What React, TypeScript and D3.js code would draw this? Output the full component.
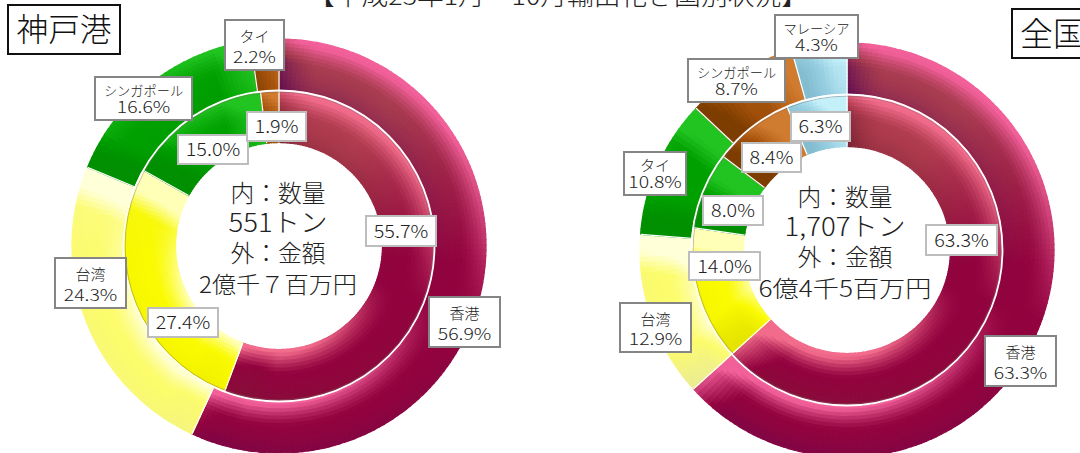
import React, { useMemo } from "react";
import * as d3 from "d3";

const kobeOuterNames = ["香港", "台湾", "シンガポール", "タイ"];
const kobeOuterValues = [56.9, 24.3, 16.6, 2.2];
const kobeInnerValues = [55.7, 27.4, 15.0, 1.9];
const japanOuterNames = ["香港", "台湾", "タイ", "シンガポール", "マレーシア"];
const japanOuterValues = [63.3, 12.9, 10.8, 8.7, 4.3];
const japanInnerNames = ["香港", "台湾", "タイ", "シンガポール", "マレーシア"];
const japanInnerValues = [63.3, 14.0, 8.0, 8.4, 6.3];
const kobeCentre = ["内：数量", "551トン", "外：金額", "2億千７百万円"];
const japanCentre = ["内：数量", "1,707トン", "外：金額", "6億4千5百万円"];
const titleText = "【平成23年1月～10月輸出花き国別状況】";

type Pal = { top: string; mid: string; hi: string; lo: string };
const green: Pal = { top: "#00a000", mid: "#00a000", hi: "#22c422", lo: "#009000" };
const outerPal: Record<string, Pal> = {
  香港: { top: "#a83c50", mid: "#92043f", hi: "#f2609a", lo: "#5a0a50" },
  台湾: { top: "#fbfb98", mid: "#fcfc6c", hi: "#ffffd8", lo: "#eeee90" },
  シンガポール: green,
  タイ: green,
  マレーシア: { top: "#98d0e2", mid: "#98d0e2", hi: "#c4f0fa", lo: "#84bcd0" },
};
const innerPal: Record<string, Pal> = {
  ...outerPal,
  香港: { top: "#b03c50", mid: "#92043f", hi: "#f26c8c", lo: "#74202f" },
  台湾: { top: "#f4f420", mid: "#fafa00", hi: "#ffffb8", lo: "#e4e400" },
};
const brown: Pal = { top: "#a5520c", mid: "#a5520c", hi: "#d07c30", lo: "#7e3e00" };

const R_OUT = 207, R_MID = 155.5, R_IN = 103.5;
const LIGHT = [0.35, -0.94];
const STEP = (1.5 * Math.PI) / 180;
const BANDS = 14;

function clamp(v: number) { return Math.max(0, Math.min(1, v)); }

function ringCells(values: number[], pals: Pal[], r0: number, r1: number, key: string) {
  const pie = d3.pie<number>().sort(null).value((d) => d)(values);
  const arc = d3.arc<any>();
  const cells: React.ReactElement[] = [];
  const w = r1 - r0;
  const bevelR = w * 0.5;
  const bevelT = w * 0.75;
  pie.forEach((sl, si) => {
    const pal = pals[si];
    const steps = Math.max(4, Math.ceil((sl.endAngle - sl.startAngle) / STEP));
    const da = (sl.endAngle - sl.startAngle) / steps;
    for (let i = 0; i < steps; i++) {
      for (let b = 0; b < BANDS; b++) {
        const a0 = sl.startAngle + i * da;
        const a = a0 + da / 2;
        const ra = r0 + (b * w) / BANDS;
        const r = ra + w / BANDS / 2;
        const dI = r - r0, dO = r1 - r;
        const dS = (a - sl.startAngle) * r, dE = (sl.endAngle - a) * r;
        const rn = clamp(1 - dO / bevelR) ** 1.4 - clamp(1 - dI / bevelR) ** 1.4;
        const tn = clamp(1 - dE / bevelT) - clamp(1 - dS / bevelT);
        const ox = Math.sin(a), oy = -Math.cos(a);
        const tx = Math.cos(a), ty = Math.sin(a);
        const sr = rn * (ox * LIGHT[0] + oy * LIGHT[1]);
        const st = tn * (tx * LIGHT[0] + ty * LIGHT[1]);
        const s = Math.max(-1, Math.min(1, (sr < 0 ? sr * 0.3 : sr * 1.35) + st * 2));
        const upper = clamp(Math.cos(a) * 1.15 + 0.1);
        const base = d3.interpolateRgb(pal.mid, pal.top)(upper);
        const col = s >= 0 ? d3.interpolateRgb(base, pal.hi)(s) : d3.interpolateRgb(base, pal.lo)(-s);
        cells.push(
          <path
            key={`${key}-${si}-${i}-${b}`}
            d={arc({ innerRadius: ra, outerRadius: ra + w / BANDS, startAngle: a0, endAngle: a0 + da }) as string}
            fill={col}
            stroke={col}
            strokeWidth={1.2}
          />
        );
      }
    }
  });
  pie.forEach((sl, si) => {
    const x = Math.sin(sl.startAngle), y = -Math.cos(sl.startAngle);
    cells.push(
      <line key={`${key}-sep-${si}`} x1={x * r0} y1={y * r0} x2={x * r1} y2={y * r1} stroke="#fff" strokeWidth={1.2} />
    );
  });
  return cells;
}

function Box({ x0, x1, y0, y1, name, value, outer }: any) {
  const cx = (x0 + x1) / 2;
  const pct = value.toFixed(1) + "%";
  const pw = pct.length * 10.7;
  return (
    <g>
      <rect x={x0} y={y0} width={x1 - x0} height={y1 - y0} fill="#fff" stroke={outer ? "#858585" : "#bdbdbd"} strokeWidth={2} />
      {name ? (
        <>
          <text x={cx} y={y0 + (y1 - y0) * 0.44} textAnchor="middle" fontSize={name.length > 2 ? 13.2 : 15}
            textLength={name.length > 2 ? name.length * 13.2 : name.length * 15} lengthAdjust="spacingAndGlyphs" fill="#222">{name}</text>
          <text x={cx} y={y1 - 7} textAnchor="middle" fontSize={16} textLength={pw} lengthAdjust="spacingAndGlyphs" fill="#222">{pct}</text>
        </>
      ) : (
        <text x={cx} y={(y0 + y1) / 2 + 6.5} textAnchor="middle" fontSize={18} textLength={pw + 1} lengthAdjust="spacingAndGlyphs" fill="#222">{pct}</text>
      )}
    </g>
  );
}

// box rectangles, same order as each value array
const kobeOuterBoxes = [[429, 500, 297, 347], [55, 126, 258, 308], [95, 192, 77, 120], [225, 284, 20, 70]];
const kobeInnerBoxes = [[366, 436, 216, 246], [148, 218, 308, 337], [178, 248, 135, 164], [247, 306, 112, 141]];
const japanOuterBoxes = [[985, 1056, 336, 386], [620, 691, 303, 352], [624, 686, 152, 195], [688, 785, 59, 102], [775, 858, 15, 58]];
const japanInnerBoxes = [[926, 997, 225, 255], [689, 760, 252, 280], [703, 763, 196, 225], [742, 801, 143, 172], [791, 850, 112, 141]];

function Donut({ cx, cy, oVals, iVals, oPals, iPals, id }: any) {
  const cells = useMemo(
    () => [...ringCells(oVals, oPals, R_MID, R_OUT, id + "o"), ...ringCells(iVals, iPals, R_IN, R_MID, id + "i")],
    []
  );
  return (
    <g transform={`translate(${cx},${cy})`}>
      {cells}
      <circle r={R_MID - 1.6} fill="none" stroke="#7a6a6a" strokeWidth={0.7} opacity={0.6} />
      <circle r={R_MID} fill="none" stroke="#fff" strokeWidth={1.8} />
    </g>
  );
}

const centreYs = [202, 232, 262, 293];
const centreSizes = [24, 26, 24, 23];
const kobeWidths = [95, 99, 95, 158];
const japanWidths = [95, 121, 95, 173];

export default function App() {
  const kobeOP = kobeOuterNames.map((n) => (n === "タイ" ? brown : outerPal[n]));
  const kobeIP = kobeOuterNames.map((n) => (n === "タイ" ? brown : innerPal[n]));
  const jpOP = japanOuterNames.map((n) => (n === "シンガポール" ? brown : outerPal[n]));
  const jpIP = japanInnerNames.map((n) => (n === "シンガポール" ? brown : innerPal[n]));
  return (
    <svg
      width={1080}
      height={453}
      style={{ position: "absolute", left: 0, top: 0, background: "#fff" }}
      fontFamily="'Noto Sans CJK JP','Noto Sans',sans-serif"
      fontWeight={300}
    >
      <text x={308} y={5} fontSize={25} textLength={500} lengthAdjust="spacingAndGlyphs" fill="#222">{titleText}</text>

      <Donut cx={279} cy={246} oVals={kobeOuterValues} iVals={kobeInnerValues} oPals={kobeOP} iPals={kobeIP} id="k" />
      <Donut cx={847} cy={250} oVals={japanOuterValues} iVals={japanInnerValues} oPals={jpOP} iPals={jpIP} id="j" />

      <rect x={8} y={5} width={112} height={49} fill="#fff" stroke="#111" strokeWidth={2} />
      <text x={64} y={41} textAnchor="middle" fontSize={32} textLength={95} lengthAdjust="spacingAndGlyphs" fill="#111">神戸港</text>
      <rect x={1012} y={9} width={90} height={49} fill="#fff" stroke="#111" strokeWidth={2} />
      <text x={1020} y={46} fontSize={33} fill="#111">全国</text>

      {kobeCentre.map((t, i) => (
        <text key={t} x={278} y={centreYs[i]} textAnchor="middle" fontSize={centreSizes[i]} textLength={kobeWidths[i]} lengthAdjust="spacingAndGlyphs" fill="#222">{t}</text>
      ))}
      {japanCentre.map((t, i) => (
        <text key={t} x={845} y={centreYs[i] + 4} textAnchor="middle" fontSize={centreSizes[i]} textLength={japanWidths[i]} lengthAdjust="spacingAndGlyphs" fill="#222">{t}</text>
      ))}

      {kobeOuterValues.map((v, i) => {
        const b = kobeOuterBoxes[i];
        return <Box key={"ko" + i} x0={b[0]} x1={b[1]} y0={b[2]} y1={b[3]} name={kobeOuterNames[i]} value={v} outer />;
      })}
      {kobeInnerValues.map((v, i) => {
        const b = kobeInnerBoxes[i];
        return <Box key={"ki" + i} x0={b[0]} x1={b[1]} y0={b[2]} y1={b[3]} value={v} />;
      })}
      {japanOuterValues.map((v, i) => {
        const b = japanOuterBoxes[i];
        return <Box key={"jo" + i} x0={b[0]} x1={b[1]} y0={b[2]} y1={b[3]} name={japanOuterNames[i]} value={v} outer />;
      })}
      {japanInnerValues.map((v, i) => {
        const b = japanInnerBoxes[i];
        return <Box key={"ji" + i} x0={b[0]} x1={b[1]} y0={b[2]} y1={b[3]} value={v} />;
      })}
    </svg>
  );
}
